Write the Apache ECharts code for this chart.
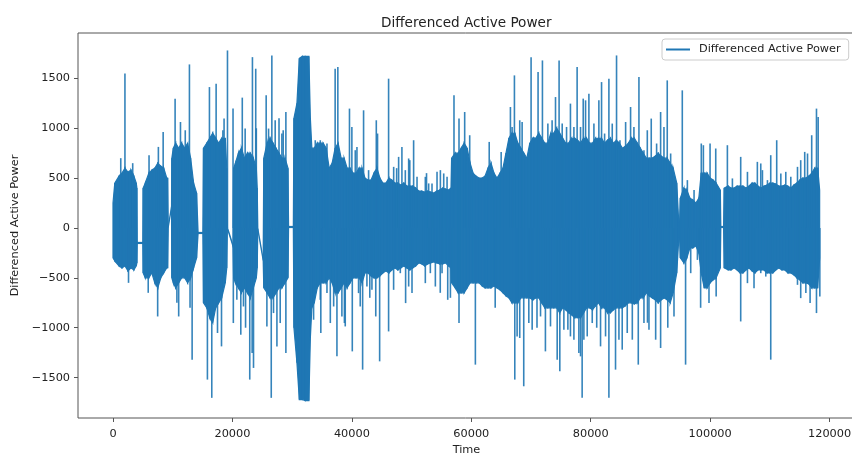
<!DOCTYPE html>
<html>
<head>
<meta charset="utf-8">
<title>Differenced Active Power</title>
<script src="https://cdn.jsdelivr.net/npm/echarts@6/dist/echarts.min.js"></script>
<style>
  * { margin: 0; padding: 0; }
  html, body { background: #fff; }
</style>
</head>
<body>
<div id="main" style="width:852px;height:456px;"></div>
<script>
// dense body of the signal: time, upper and lower edge
var coreT = [0, 300, 1000, 1500, 2000, 2500, 3000, 3500, 3900, 4000,
  4050, 5000, 5050, 5400, 6000, 6500, 7000, 7500, 8000, 8500,
  9000, 9150, 9250, 9800, 9850, 10100, 10500, 11000, 11500, 12000,
  12500, 13000, 13500, 14000, 14250, 15050, 15150, 15700, 16200, 16700,
  17200, 17700, 18200, 18800, 19050, 19150, 20100, 20200, 20500, 21000,
  21500, 22000, 22500, 23000, 23500, 24000, 24150, 24250, 25150, 25250,
  25800, 26300, 26800, 27300, 27800, 28300, 28800, 29300, 29400, 30200,
  30300, 30800, 31200, 31700, 32200, 32800, 33050, 33300, 33700, 34200,
  34700, 35200, 35700, 36200, 36700, 37200, 37700, 38200, 38700, 39200,
  39700, 40200, 40700, 41200, 41700, 42200, 42700, 43200, 43700, 44200,
  44700, 45200, 45700, 46200, 46700, 47200, 47700, 48200, 48700, 49200,
  49700, 50200, 50700, 51200, 51700, 52200, 52700, 53200, 53700, 54200,
  54700, 55200, 55700, 56200, 56600, 56700, 57300, 57800, 58300, 58800,
  59300, 59800, 60300, 60800, 61300, 61800, 62300, 62800, 63300, 63800,
  64300, 64800, 65300, 65800, 66300, 66800, 67300, 67800, 68300, 68800,
  69300, 69800, 70300, 70800, 71300, 71800, 72300, 72800, 73300, 73800,
  74300, 74800, 75300, 75800, 76300, 76800, 77300, 77800, 78300, 78800,
  79300, 79800, 80300, 80800, 81300, 81800, 82300, 82800, 83300, 83800,
  84300, 84800, 85300, 85800, 86300, 86800, 87300, 87800, 88300, 88800,
  89300, 89800, 90300, 90800, 91300, 91800, 92300, 92800, 93300, 93800,
  94400, 94700, 94850, 95000, 95600, 96100, 96600, 97100, 97600, 98100,
  98500, 99000, 99500, 100000, 100500, 101000, 101700, 101780, 102250, 102350,
  103000, 103500, 104000, 104500, 105000, 105500, 106000, 106500, 107000, 107500,
  108000, 108500, 109000, 109500, 110000, 110500, 111000, 111500, 112000, 112500,
  113000, 113500, 114000, 114500, 115000, 115500, 116000, 116500, 117000, 117500,
  118000, 118330];
var coreHi = [250, 450, 520, 550, 600, 560, 580, 520, 450, 400,
  -145, -145, 400, 450, 550, 580, 600, 650, 620, 600,
  500, 500, 15, 215, 700, 800, 850, 800, 850, 800,
  850, 700, 450, 350, -45, -45, 800, 850, 900, 950,
  900, 850, 900, 900, 600, 5, -175, 600, 650, 750,
  800, 700, 750, 750, 700, 600, 400, -5, -315, 700,
  850, 900, 850, 800, 750, 700, 700, 600, 15, 15,
  1100, 1250, 1700, 1720, 1720, 1720, 1100, 800, 800, 850,
  850, 850, 800, 600, 650, 800, 850, 700, 700, 600,
  600, 550, 550, 600, 600, 500, 480, 480, 550, 600,
  500, 450, 450, 500, 480, 450, 450, 430, 450, 420,
  420, 420, 400, 370, 370, 360, 370, 360, 350, 370,
  380, 400, 390, 380, 400, 700, 750, 750, 800, 850,
  800, 650, 550, 520, 500, 500, 520, 600, 650, 550,
  500, 550, 600, 750, 900, 950, 950, 850, 800, 750,
  700, 850, 900, 900, 950, 900, 850, 850, 950, 950,
  1000, 950, 900, 850, 850, 900, 900, 880, 850, 900,
  900, 850, 850, 900, 900, 900, 850, 880, 900, 850,
  880, 850, 800, 820, 850, 900, 900, 850, 800, 750,
  700, 700, 700, 720, 750, 720, 700, 700, 650, 600,
  450, 100, 10, 300, 400, 380, 300, 280, 250, 300,
  550, 550, 550, 500, 480, 450, 380, 15, 15, 400,
  420, 400, 400, 420, 420, 420, 400, 420, 450, 450,
  420, 400, 420, 430, 450, 450, 440, 420, 420, 430,
  420, 400, 430, 450, 480, 500, 500, 520, 550, 600,
  600, 380];
var coreLo = [-300, -330, -380, -400, -380, -430, -400, -420, -380, -350,
  -155, -155, -450, -500, -500, -450, -550, -600, -500, -450,
  -400, -400, 5, 205, -500, -550, -600, -550, -500, -500,
  -550, -500, -400, -300, -55, -55, -750, -800, -900, -950,
  -800, -750, -700, -550, -400, -5, -185, -500, -550, -600,
  -650, -600, -650, -700, -600, -500, -400, -15, -325, -600,
  -650, -700, -700, -650, -600, -600, -550, -500, 5, 5,
  -1000, -1350, -1720, -1720, -1730, -1730, -1100, -800, -750, -600,
  -550, -550, -550, -500, -550, -650, -650, -600, -550, -600,
  -550, -500, -500, -500, -550, -450, -450, -480, -500, -500,
  -480, -450, -430, -450, -420, -400, -420, -400, -380, -400,
  -420, -400, -380, -350, -360, -380, -360, -350, -340, -350,
  -360, -360, -350, -380, -400, -550, -600, -650, -650, -650,
  -600, -550, -550, -550, -550, -580, -600, -600, -600, -580,
  -600, -620, -650, -680, -700, -750, -750, -750, -700, -700,
  -700, -700, -720, -700, -700, -750, -800, -800, -800, -800,
  -800, -850, -800, -820, -850, -870, -900, -900, -900, -850,
  -800, -800, -820, -780, -750, -800, -800, -850, -850, -820,
  -800, -800, -800, -780, -750, -750, -760, -750, -700, -700,
  -650, -680, -700, -720, -750, -720, -700, -720, -750, -650,
  -450, -150, -60, -300, -350, -300, -200, -200, -180, -250,
  -450, -600, -600, -550, -520, -500, -400, 5, 5, -400,
  -420, -420, -400, -420, -450, -450, -420, -400, -430, -450,
  -420, -420, -420, -450, -450, -450, -420, -400, -420, -420,
  -450, -450, -470, -500, -520, -550, -550, -560, -600, -600,
  -600, -300];

// single swings standing out of the body
var spikeT = [1300, 2000, 2600, 3300, 5900, 6036, 7480, 7600, 8400, 10400, 10700, 11000, 11300, 12100, 12800, 12900, 13250, 15810, 16150, 16540,
  17270, 17500, 18170, 18400, 18600, 19170, 20100, 20150, 21400, 21650, 22200, 22900, 23300, 23350, 23900, 24000, 25650, 26500, 26600, 27450,
  27800, 28500, 28950, 28950, 34800, 37200, 37500, 37650, 38750, 38890, 39600, 40000, 40070, 41800, 41960, 43000, 44000, 44090, 44300, 44650,
  46150, 46150, 47500, 48380, 49000, 49700, 50340, 52500, 54800, 56500, 57100, 57940, 57940, 58890, 59730, 60680, 63000, 64000, 65000, 66550,
  67220, 67280, 68110, 68110, 68780, 70010, 71000, 71180, 71910, 72410, 73530, 74700, 74820, 76600, 76600, 77720, 78290, 78560, 78740, 79410,
  79690, 81000, 81810, 83040, 83040, 84150, 84320, 85270, 86670, 87960, 88070, 89500, 90130, 91700, 91700, 92810, 92900, 95330, 95880, 98400,
  98510, 98860, 99800, 99980, 101000, 102880, 105110, 105110, 107340, 107900, 110140, 110140, 111140, 115160, 115160, 115830, 116730, 117000, 117800, 117800,
  118080, 118360,
  40570, 40850, 42800, 47000, 47830, 48950, 49510, 50910, 52300, 52860,
  53420, 54260, 54820, 55380, 55940, 38330, 41120, 41400, 42520, 43360,
  46990, 48110, 49510, 50070, 52300, 53140, 53980, 55100, 56050, 100930,
  103720, 106240, 108470, 108750, 109590, 111830, 112660, 113500, 114620, 116300,
  106240, 108470, 109310, 113220, 114620, 116020, 96180, 97300, 96740, 97860,
  66830, 68510, 70470, 72820, 74100, 75220, 75950, 77180, 78290, 67670,
  69630, 70190, 71590, 73260, 74380, 75500, 76170, 77180, 78010, 79130,
  80530, 81360, 82320, 83600, 84890, 85840, 87230, 88910, 89470, 91030,
  92260, 93380, 78850, 80250, 81640, 82480, 84720, 86110, 86960, 88910,
  89750, 90870, 93940, 33870, 34710, 35270, 35830, 33590, 34710, 35830,
  36390, 36950, 22130, 20740, 21850, 23530, 26050, 27160, 28280, 25770,
  26880, 28000];
var spikeV = [700, 1550, -550, 650, -650, 730, -887, 813, 963, 1297, -750, -887, 1063, 980, 1640, -800, -1320, -1520, 1413, -1703,
  1447, -1053, -1187, 980, 1097, 1780, 1197, -953, -1070, 1307, -1000, -1520, -1253, 1713, 1597, 1000, 1330, -1703, 1730, -1187,
  1100, 980, 1163, -1253, -1053, 1597, -1287, 1613, -953, -987, 1197, 1013, -1237, -1420, 1180, -700, -887, 1080, 947, -1337,
  1497, -1037, 600, 813, -753, 680, 880, 550, -650, -700, 1330, 1097, -953, 1163, 930, -1370, 863, -800, 763, 1213,
  1530, -1520, -1103, 1080, -1587, 1713, -1000, 1563, 1680, -1237, 1080, 1680, -1437, 1247, -1087, 1613, -1287, -1703, 1297, -1087,
  1347, -1000, 1463, 1497, -1703, -1420, 1730, -1220, 1213, -1370, 1513, -950, 1097, 1163, -1203, 1480, -1000, 1380, -1370, -800,
  847, 830, -753, 847, -687, 830, 713, -937, -603, 663, 730, -1320, 880, 680, -703, 763, -753, 930, 1197, -853,
  1113, -687,
  780, 813, 580, 613, 713, 580, 697, 513, 513, 447,
  447, 563, 580, 547, 513, -887, -653, -787, -587, -620,
  -620, -453, -587, -653, -553, -453, -587, -453, -720, 797,
  497, 563, 647, 580, 480, 547, 563, 513, 613, 747,
  -553, -453, -487, -453, -570, -653, 480, 380, -453, -320,
  1013, 1063, 913, 1047, 1313, 1047, 1013, 1013, 1013, -1087,
  -953, -1020, -887, -987, -1320, -1020, -1020, -1120, -1253, 1280,
  1047, 1280, 947, 1047, 880, 1063, 1013, 780, 980, 847,
  1013, 747, -1120, -953, -1187, -1087, -1120, -1053, -1120, -953,
  -1020, -1120, -887, 880, 880, 780, 847, -920, -720, -653,
  -953, -787, 997, -720, -787, -1403, 997, 1080, 947, -987,
  -853, -953];

var xTicks = [0, 20000, 40000, 60000, 80000, 100000, 120000];
var yTicks = [-1500, -1000, -500, 0, 500, 1000, 1500];

var blue = '#1f77b4';
var font = 'DejaVu Sans';

var bandData = [];
for (var i = 0; i < coreT.length - 1; i++) {
  bandData.push([coreT[i], coreLo[i], coreHi[i], coreT[i + 1], coreLo[i + 1], coreHi[i + 1]]);
}
var spikeData = spikeT.map(function (t, k) { return [t, spikeV[k]]; });

function minus(v) { return String(v).replace('-', '\u2212'); }

var myChart = echarts.init(document.getElementById('main'));

var option = {
  backgroundColor: '#fff',
  animation: false,
  title: {
    text: 'Differenced Active Power',
    left: 381,
    top: 16,
    padding: 0,
    textStyle: { fontFamily: font, fontSize: 13.6, fontWeight: 'normal', color: '#222' }
  },
  legend: {
    data: [{ name: 'Differenced Active Power', icon: 'rect' }],
    left: 662,
    top: 39,
    padding: [5, 8, 5, 4],
    itemWidth: 24,
    itemHeight: 2,
    borderColor: '#cccccc',
    borderWidth: 1,
    borderRadius: 3,
    backgroundColor: 'rgba(255,255,255,0.8)',
    itemStyle: { color: blue },
    textStyle: { fontFamily: font, fontSize: 11.3, color: '#222', padding: [0, 0, 0, 4] }
  },
  grid: {
    left: 78,
    top: 33,
    width: 777,
    height: 385,
    outerBoundsMode: 'none',
    containLabel: false,
    show: true,
    borderColor: '#555',
    borderWidth: 1,
    backgroundColor: 'transparent'
  },
  xAxis: {
    type: 'value',
    min: -5860,
    max: 124250,
    name: 'Time',
    nameLocation: 'middle',
    nameGap: 27,
    nameTextStyle: { fontFamily: font, fontSize: 11.3, color: '#222' },
    axisLine: { show: false, onZero: false },
    axisTick: { show: true, length: 4, customValues: xTicks, lineStyle: { color: '#555' } },
    axisLabel: { customValues: xTicks, margin: 11, fontFamily: font, fontSize: 11.3, color: '#222', formatter: minus },
    splitLine: { show: false }
  },
  yAxis: {
    type: 'value',
    min: -1905,
    max: 1955,
    name: 'Differenced Active Power',
    nameLocation: 'middle',
    nameGap: 41,
    nameTextStyle: { fontFamily: font, fontSize: 11.3, color: '#222' },
    axisLine: { show: false, onZero: false },
    axisTick: { show: true, length: 4, customValues: yTicks, lineStyle: { color: '#555' } },
    axisLabel: { customValues: yTicks, margin: 8, fontFamily: font, fontSize: 11.3, color: '#222', formatter: minus },
    splitLine: { show: false }
  },
  series: [
    {
      name: 'band',
      type: 'custom',
      silent: true,
      clip: true,
      data: bandData,
      encode: { x: [0, 3], y: [1, 2, 4, 5] },
      renderItem: function (params, api) {
        var a = api.coord([api.value(0), api.value(1)]);
        var b = api.coord([api.value(0), api.value(2)]);
        var c = api.coord([api.value(3), api.value(5)]);
        var d = api.coord([api.value(3), api.value(4)]);
        return {
          type: 'polygon',
          shape: { points: [a, b, c, d] },
          style: { fill: blue, stroke: blue, lineWidth: 1.2 }
        };
      }
    },
    {
      name: 'Differenced Active Power',
      type: 'custom',
      clip: true,
      itemStyle: { color: blue },
      data: spikeData,
      encode: { x: 0, y: 1 },
      renderItem: function (params, api) {
        var p0 = api.coord([api.value(0), 0]);
        var p1 = api.coord([api.value(0), api.value(1)]);
        return {
          type: 'line',
          shape: { x1: p0[0], y1: p0[1], x2: p1[0], y2: p1[1] },
          style: { stroke: blue, lineWidth: 1.6, opacity: 0.9 }
        };
      }
    }
  ]
};

myChart.setOption(option);
</script>
</body>
</html>
